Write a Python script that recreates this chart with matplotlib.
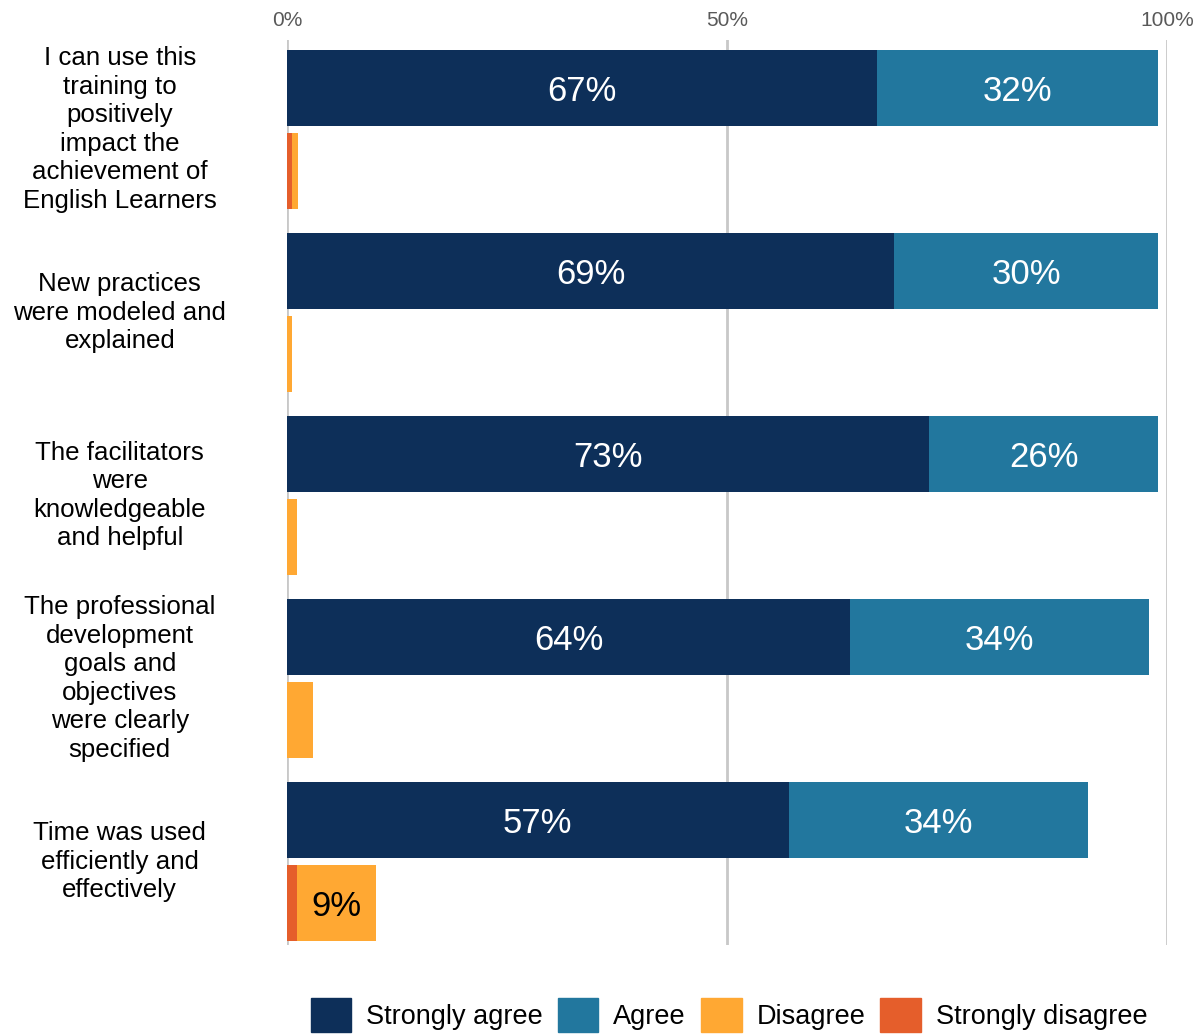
import matplotlib.pyplot as plt
import numpy as np
from matplotlib.patches import Patch

plt.rcParams['font.family'] = ['Liberation Sans', 'DejaVu Sans']

# Survey items (top to bottom)
categories = [
    "I can use this\ntraining to\npositively\nimpact the\nachievement of\nEnglish Learners",
    "New practices\nwere modeled and\nexplained",
    "The facilitators\nwere\nknowledgeable\nand helpful",
    "The professional\ndevelopment\ngoals and\nobjectives\nwere clearly\nspecified",
    "Time was used\nefficiently and\neffectively",
]

# Percent of respondents per response
strongly_agree = [67, 69, 73, 64, 57]
agree = [32, 30, 26, 34, 34]
strongly_disagree = [0.6, 0, 0, 0, 1.1]
disagree = [0.6, 0.6, 1.1, 2.9, 9]

x_ticks = [0, 50, 100]
x_tick_labels = ["0%", "50%", "100%"]

c_sa = "#0D2F59"
c_a = "#22779E"
c_d = "#FFA833"
c_sd = "#E55E2B"

fig = plt.figure(figsize=(12.04, 10.36), dpi=100)
ax = fig.add_axes([287 / 1204, 1 - 945 / 1036, 880 / 1204, 905 / 1036])

y = np.arange(len(categories))
off = 0.227
h = 0.415
y_pos = y - off
y_neg = y + off

min_label = 5

def bar_row(ypos, left, width, color, txtcolor):
    bars = ax.barh(ypos, width, left=left, height=h, color=color, zorder=2)
    for b, v in zip(bars, width):
        if v >= min_label:
            ax.text(b.get_x() + b.get_width() / 2, b.get_y() + b.get_height() / 2,
                    f"{v:.0f}%", ha="center", va="center_baseline", color=txtcolor,
                    fontsize=25, zorder=3)

bar_row(y_pos, 0, strongly_agree, c_sa, "white")
bar_row(y_pos, strongly_agree, agree, c_a, "white")
bar_row(y_neg, 0, strongly_disagree, c_sd, "black")
bar_row(y_neg, strongly_disagree, disagree, c_d, "black")

ax.set_xlim(0, 100)
ax.set_ylim(y[-1] + 0.456, -0.489)
ax.set_xticks(x_ticks)
ax.set_xticklabels(x_tick_labels)
ax.xaxis.tick_top()
ax.tick_params(axis="x", length=0, pad=7, labelsize=15, labelcolor="#595959")
ax.set_yticks([])
ax.grid(axis="x", color="#C8C8C8", linewidth=2, zorder=0)
for s in ax.spines.values():
    s.set_visible(False)

for yi, lab in zip(y, categories):
    ax.text(-0.19, yi, lab, transform=ax.get_yaxis_transform(), ha="center",
            va="center", multialignment="center", fontsize=18.6, linespacing=1.24)

handles = [Patch(color=c_sa, label="Strongly agree"),
           Patch(color=c_a, label="Agree"),
           Patch(color=c_d, label="Disagree"),
           Patch(color=c_sd, label="Strongly disagree")]
fig.legend(handles=handles, loc="center", bbox_to_anchor=(729 / 1204, 1 - 1015 / 1036),
           ncol=4, frameon=False, fontsize=19.5, handlelength=1.5, handleheight=1.5,
           handletextpad=0.55, columnspacing=0.55)

fig.savefig("out.png", dpi=100)
